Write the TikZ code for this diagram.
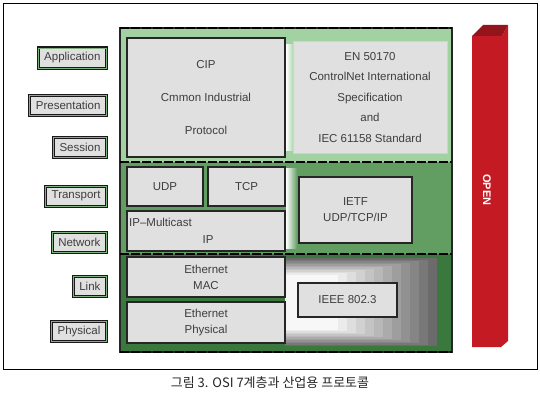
\documentclass[tikz,border=0pt]{standalone}
\usepackage{fontspec}
\setmainfont{Liberation Sans}
\newfontfamily\krfont{Noto Sans CJK KR}
\definecolor{lightgreen}{RGB}{162,210,162}
\definecolor{midgreen}{RGB}{98,158,98}
\definecolor{darkgreen}{RGB}{58,120,62}
\definecolor{boxgray}{RGB}{224,224,224}
\definecolor{txtgray}{RGB}{62,62,62}
\definecolor{openred}{RGB}{196,26,36}
\definecolor{openredtop}{RGB}{148,20,28}

\begin{document}
\begin{tikzpicture}[x=1pt,y=-1pt,
  layerbox/.style={draw=black!90,double=midgreen!80,double distance=0.8pt,line width=1.1pt,
    fill=boxgray,text=txtgray,anchor=east,minimum height=20pt,inner xsep=6pt,
    font=\fontsize{11.5}{13}\selectfont},
  protobox/.style={draw=black!85,line width=1.2pt,fill=boxgray,text=txtgray,align=center,
    inner sep=0pt,font=\fontsize{11.5}{16}\selectfont},
  sep/.style={line width=2.4pt,dash pattern=on 9pt off 2pt}]
\useasboundingbox (0,0) rectangle (540,404);
\fill[white] (0,0) rectangle (540,404);
\draw[line width=0.8pt] (3,3) rectangle (537,369);

% layer backgrounds
\fill[lightgreen] (120,28) rectangle (452,162);
\fill[midgreen] (120,162) rectangle (452,254);
\fill[darkgreen] (120,254) rectangle (452,352);
\shade[left color=white,right color=lightgreen] (286,45) rectangle (294,150);
\shade[left color=white,right color=midgreen] (286,168) rectangle (297,248);
\foreach \i [evaluate=\i as \q using 58-5*\i] in {0,...,11}
  \fill[black!\q] (285,258+1.5*\i) rectangle (437-9*\i,346-1.5*\i);
\draw[line width=1.5pt,black!85] (120,28) rectangle (452,352);
\draw[sep] (120,28) -- (452,28);
\draw[sep] (120,162) -- (452,162);
\draw[sep] (120,254) -- (452,254);
\draw[sep] (120,352) -- (452,352);

% OSI layers
\node[layerbox] (app) at (107,58) {Application};
\node[layerbox] (pres) at (107,105.5) {Presentation};
\node[layerbox] (sess) at (107,147.5) {Session};
\node[layerbox] (trans) at (107,196) {Transport};
\node[layerbox] (net) at (107,242.5) {Network};
\node[layerbox] (link) at (107,286) {Link};
\node[layerbox] (phys) at (107,331.5) {Physical};

% protocols
\node[protobox,minimum width=158pt,minimum height=119pt,font=\fontsize{11.5}{33}\selectfont]
  (cip) at (206,97.5) {CIP\\Cmmon Industrial\\Protocol};
\node[protobox,draw=lightgreen!70!white,line width=1pt,minimum width=154pt,minimum height=111pt,
  font=\fontsize{11.5}{20.5}\selectfont]
  (en) at (370,97.5) {EN 50170\\ControlNet International\\Specification\\and\\IEC 61158 Standard};
\node[protobox,minimum width=76pt,minimum height=39pt] (udp) at (165,186.5) {UDP};
\node[protobox,minimum width=77pt,minimum height=39pt] (tcp) at (246.5,186.5) {TCP};
\node[protobox,minimum width=158pt,minimum height=40pt] (ip) at (206,231) {};
\node[text=txtgray,anchor=west,inner sep=0pt,font=\fontsize{11.5}{13}\selectfont]
  (ipm) at (129,222) {IP--Multicast};
\node[text=txtgray,font=\fontsize{11.5}{13}\selectfont] (iptxt) at (208,240) {IP};
\node[protobox,minimum width=113pt,minimum height=66pt] (ietf) at (355.5,210) {IETF\\UDP/TCP/IP};
\node[protobox,minimum width=158pt,minimum height=40pt] (mac) at (206,277) {Ethernet\\MAC};
\node[protobox,minimum width=158pt,minimum height=41pt] (ephy) at (206,322.5) {Ethernet\\Physical};
\node[protobox,minimum width=99pt,minimum height=34pt] (ieee) at (347.5,300) {IEEE 802.3};

% open bar
\fill[openred] (472,36) -- (502,36) -- (508,25) -- (508,341) -- (501,347) -- (472,347) -- cycle;
\fill[openredtop] (472,36) -- (483,25) -- (508,25) -- (502,36) -- cycle;
\node[rotate=-90,text=white,font=\bfseries\fontsize{11}{12}\selectfont] (open) at (487,190) {OPEN};

\node[text=black!85,font=\krfont\fontsize{13}{15}\selectfont] (caption) at (270,383)
  {그림 3. OSI 7계층과 산업용 프로토콜};
\end{tikzpicture}
\end{document}
